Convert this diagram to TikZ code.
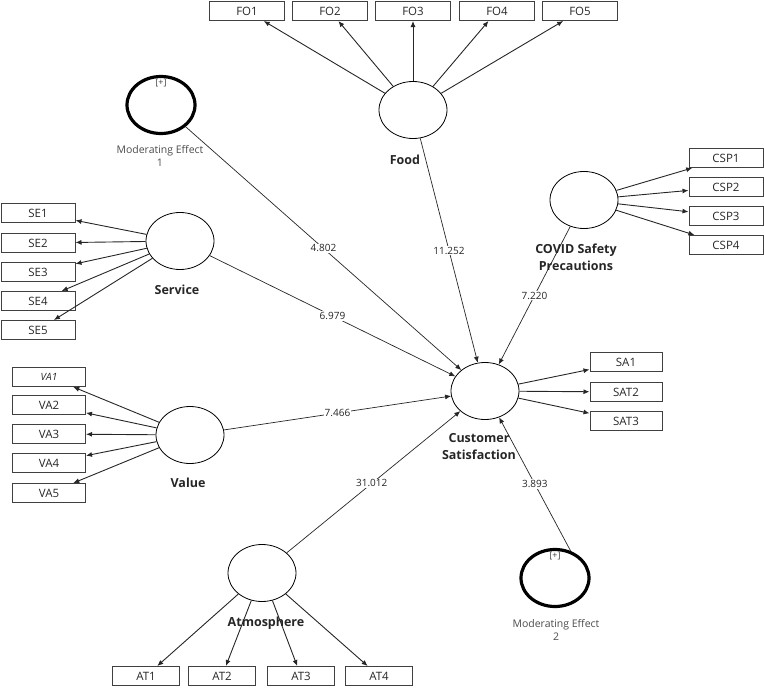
\documentclass[tikz,border=0pt]{standalone}
\usepackage{fontspec}
\setmainfont{Open Sans}
\usetikzlibrary{arrows.meta,positioning,shapes.geometric}

\tikzset{
  latent/.style={draw, ellipse, line width=0.8pt, minimum width=68pt, minimum height=57pt, inner sep=0pt},
  moder/.style={latent, line width=3.2pt},
  ind/.style={draw=black!75, line width=1pt, rectangle, minimum width=75pt, minimum height=19pt, inner sep=0pt, font=\fontsize{11.5}{12}\selectfont, text=black!85},
  lvname/.style={font=\fontsize{12.5}{17}\selectfont\bfseries, align=center, text=black!85},
  modname/.style={font=\fontsize{10.5}{12.5}\selectfont, align=center, text=black!70},
  tag/.style={font=\fontsize{9}{9}\selectfont, inner sep=0pt, text=black!75},
  coef/.style={fill=white, inner sep=1pt, font=\fontsize{10}{10}\selectfont, text=black!85},
  load/.style={-{Latex[length=6pt,width=5pt]}, line width=0.9pt, draw=black!85},
  effect/.style={-{Latex[length=6pt,width=5pt]}, line width=0.7pt, draw=black!85},
}

\begin{document}
\begin{tikzpicture}[x=1pt, y=-1pt]
  \useasboundingbox (0,0) rectangle (764,688);
  % latent variables
  \node[latent] (food) at (413,110) {};
  \node[latent] (service) at (180,241) {};
  \node[latent] (value) at (190,435) {};
  \node[latent] (csp) at (584,200) {};
  \node[latent] (cs) at (485,391) {};
  \node[latent] (atmo) at (262,573) {};
  % moderators
  \node[moder] (me1) at (161,105) {};
  \node[moder] (me2) at (555,578) {};
  \node[tag, below=4pt of me1.north] (me1tag) {[+]};
  \node[tag, below=4pt of me2.north] (me2tag) {[+]};
  % names
  \node[lvname] (foodname) at (405,160) {Food};
  \node[lvname] (servicename) at (177,290) {Service};
  \node[lvname] (valuename) at (188,483) {Value};
  \node[lvname] (cspname) at (576,257) {COVID Safety\\Precautions};
  \node[lvname] (csname) at (479,447) {Customer\\Satisfaction};
  \node[lvname] (atmoname) at (266,623) {Atmosphere};
  \node[modname] (me1name) at (160,156) {Moderating Effect\\1};
  \node[modname] (me2name) at (556,630) {Moderating Effect\\2};

  % indicators of Food
  \foreach \i/\x in {1/247,2/330,3/413,4/497,5/580}{
    \node[ind] (FO\i) at (\x,11) {FO\i};
    \draw[load] (food) -- (FO\i);
  }
  % indicators of Service
  \foreach \i/\y in {1/213,2/243,3/272,4/301,5/330}{
    \node[ind, minimum width=74pt] (SE\i) at (38,\y) {SE\i};
    \draw[load] (service) -- (SE\i);
  }
  % indicators of Value
  \node[ind, minimum width=73pt, font=\fontsize{10}{10}\selectfont\itshape] (VA1) at (49,377) {VA1};
  \draw[load] (value) -- (VA1);
  \foreach \i/\y in {2/405,3/434,4/463,5/493}{
    \node[ind, minimum width=73pt] (VA\i) at (49,\y) {VA\i};
    \draw[load] (value) -- (VA\i);
  }
  % indicators of COVID safety
  \foreach \i/\y in {1/158,2/187,3/216,4/245}{
    \node[ind, minimum width=74pt] (CSP\i) at (726,\y) {CSP\i};
    \draw[load] (csp) -- (CSP\i);
  }
  % indicators of satisfaction
  \node[ind, minimum width=72pt] (SA1) at (626,362) {SA1};
  \node[ind, minimum width=72pt] (SAT2) at (626,392) {SAT2};
  \node[ind, minimum width=72pt] (SAT3) at (626,421) {SAT3};
  \foreach \n in {SA1,SAT2,SAT3}
    \draw[load] (cs) -- (\n);
  % indicators of Atmosphere
  \foreach \i/\x in {1/146,2/222,3/301,4/379}{
    \node[ind, minimum width=67pt] (AT\i) at (\x,676) {AT\i};
    \draw[load] (atmo) -- (AT\i);
  }

  % structural paths
  \draw[effect] (me1) -- node[coef, pos=0.5] {4.802} (cs);
  \draw[effect] (food) -- node[coef, pos=0.5] {11.252} (cs);
  \draw[effect] (service) -- node[coef, pos=0.5] {6.979} (cs);
  \draw[effect] (csp) -- node[coef, pos=0.5] {7.220} (cs);
  \draw[effect] (value) -- node[coef, pos=0.5] {7.466} (cs);
  \draw[effect] (atmo) -- node[coef, pos=0.49] {31.012} (cs);
  \draw[effect] (me2.60) -- node[coef, pos=0.5] {3.893} (cs);
\end{tikzpicture}
\end{document}
